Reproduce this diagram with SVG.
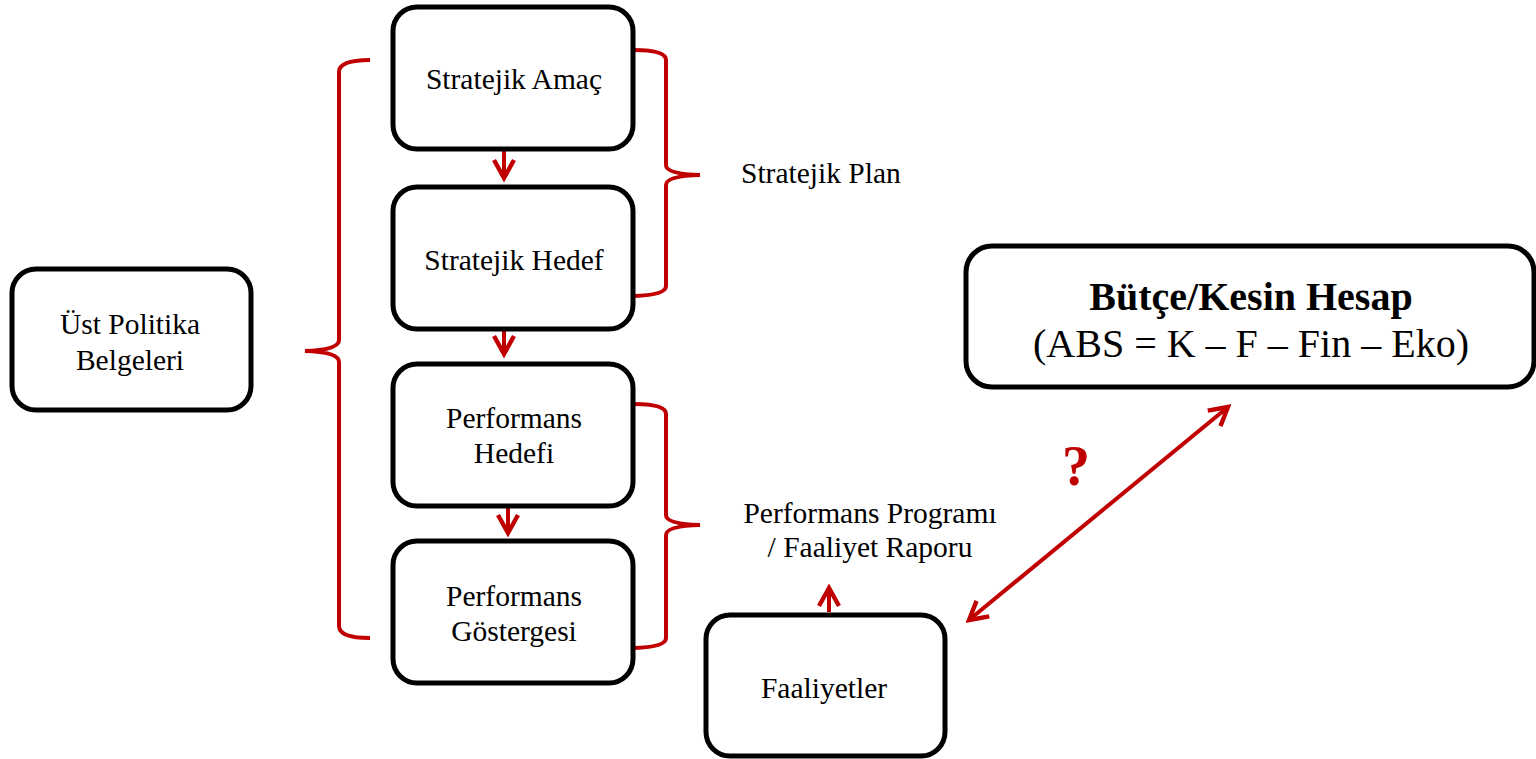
<svg xmlns="http://www.w3.org/2000/svg" width="1536" height="759" viewBox="0 0 1536 759">
<style>
.box{fill:#fff;stroke:#000;stroke-width:5}
.t{font-family:"Liberation Serif","Times New Roman",serif;font-size:29.5px;fill:#000;text-anchor:middle}
.red{fill:none;stroke:#C00000;stroke-width:4;stroke-linecap:butt;stroke-linejoin:miter}
</style>
<defs>
<marker id="ah" viewBox="0 0 12 12" refX="10" refY="6" markerWidth="6" markerHeight="6" orient="auto-start-reverse" markerUnits="strokeWidth">
<path d="M1,1 L10,6 L1,11" fill="none" stroke="#C00000" stroke-width="2.2"/>
</marker>
</defs>
<rect width="1536" height="759" fill="#fff"/>
<g id="connectors">
<path class="red" d="M370,60 Q339,60 339,72 L339,340 Q339,350 305,351 Q339,352 339,362 L339,626 Q339,638 370,638"/>
<path class="red" d="M634,50 Q666,50 666,60 L666,165 Q666,174 700,175 Q666,176 666,185 L666,286 Q666,295 634,296"/>
<path class="red" d="M634,404 Q666,404 666,414 L666,515 Q666,524 700,525 Q666,526 666,535 L666,638 Q666,647 634,648"/>
<line class="red" x1="504" y1="150" x2="504" y2="178" marker-end="url(#ah)"/>
<line class="red" x1="504" y1="330" x2="504" y2="354" marker-end="url(#ah)"/>
<line class="red" x1="508" y1="508" x2="508" y2="533" marker-end="url(#ah)"/>
<line class="red" x1="829" y1="612" x2="829" y2="588" marker-end="url(#ah)"/>
<line class="red" x1="969" y1="620" x2="1228" y2="407" marker-start="url(#ah)" marker-end="url(#ah)"/>
<text x="1076" y="485" font-family="'Liberation Serif','Times New Roman',serif" font-size="56" font-weight="bold" fill="#C00000" text-anchor="middle">?</text>
</g>
<g id="ust-politika">
<rect class="box" x="12" y="269" width="239" height="141" rx="24"/>
<text class="t" x="130" y="334">Üst Politika</text>
<text class="t" x="130" y="370">Belgeleri</text>
</g>
<g id="stratejik-amac">
<rect class="box" x="393" y="7" width="240" height="142" rx="24"/>
<text class="t" x="514" y="89">Stratejik Amaç</text>
</g>
<g id="stratejik-hedef">
<rect class="box" x="393" y="187" width="240" height="142" rx="24"/>
<text class="t" x="514" y="270">Stratejik Hedef</text>
</g>
<g id="performans-hedefi">
<rect class="box" x="393" y="364" width="240" height="142" rx="24"/>
<text class="t" x="514" y="428">Performans</text>
<text class="t" x="514" y="463">Hedefi</text>
</g>
<g id="performans-gostergesi">
<rect class="box" x="393" y="541" width="240" height="142" rx="24"/>
<text class="t" x="514" y="606">Performans</text>
<text class="t" x="514" y="641">Göstergesi</text>
</g>
<g id="faaliyetler">
<rect class="box" x="706" y="615" width="239" height="141" rx="24"/>
<text class="t" x="824" y="698">Faaliyetler</text>
</g>
<g id="butce">
<rect class="box" x="966" y="246" width="568" height="141" rx="26"/>
<text class="t" x="1251" y="310" font-size="40" font-weight="bold" style="font-size:40px">Bütçe/Kesin Hesap</text>
<text class="t" x="1251" y="357" style="font-size:40px">(ABS = K – F – Fin – Eko)</text>
</g>
<g id="labels">
<text class="t" x="741" y="183" style="text-anchor:start">Stratejik Plan</text>
<text class="t" x="870" y="523">Performans Programı</text>
<text class="t" x="870" y="557">/ Faaliyet Raporu</text>
</g>
</svg>
